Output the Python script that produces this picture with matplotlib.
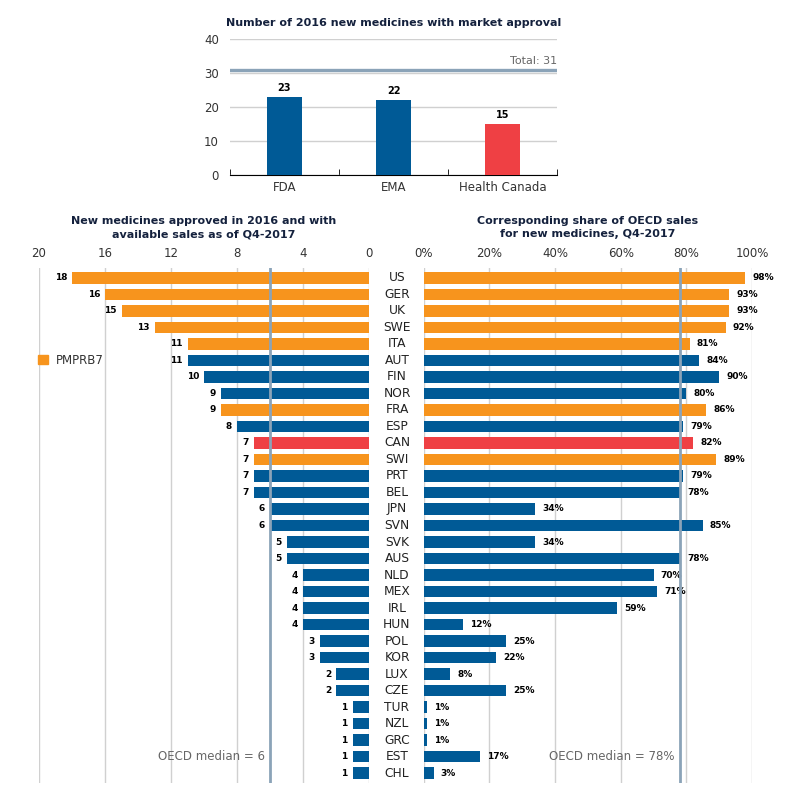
import matplotlib
matplotlib.use("Agg")
import matplotlib.pyplot as plt
from matplotlib.patches import Patch
from matplotlib.transforms import blended_transform_factory

# ---- data ----
agencies = ["FDA", "EMA", "Health Canada"]
approvals = [23, 22, 15]
total_new = 31

countries = ["US", "GER", "UK", "SWE", "ITA", "AUT", "FIN", "NOR", "FRA", "ESP",
             "CAN", "SWI", "PRT", "BEL", "JPN", "SVN", "SVK", "AUS", "NLD", "MEX",
             "IRL", "HUN", "POL", "KOR", "LUX", "CZE", "TUR", "NZL", "GRC", "EST", "CHL"]
counts = [18, 16, 15, 13, 11, 11, 10, 9, 9, 8, 7, 7, 7, 7, 6, 6, 5, 5, 4, 4,
          4, 4, 3, 3, 2, 2, 1, 1, 1, 1, 1]
shares = [98, 93, 93, 92, 81, 84, 90, 80, 86, 79, 82, 89, 79, 78, 34, 85, 34, 78, 70, 71,
          59, 12, 25, 22, 8, 25, 1, 1, 1, 17, 3]
pmprb7 = ["US", "GER", "UK", "SWE", "ITA", "FRA", "SWI"]
median_count = 6
median_share = 78

ORANGE = "#F7941D"
BLUE = "#005A96"
RED = "#EF4044"
MEDIAN = "#8BA3B8"
GRID = "#D0D0D0"
TITLE = "#14213D"
TXT = "#333333"

plt.rcParams['font.family'] = ['DejaVu Sans']

def col(c):
    if c == "CAN":
        return RED
    if c in pmprb7:
        return ORANGE
    return BLUE

colors = [col(c) for c in countries]
agency_colors = [BLUE, BLUE, RED]

fig = plt.figure(figsize=(8.1, 7.9), dpi=100)

# ---- top chart ----
W, H = 810, 790
def rect(x0, y0, x1, y1):
    return [x0 / W, 1 - y1 / H, (x1 - x0) / W, (y1 - y0) / H]

axt = fig.add_axes(rect(230, 39, 557, 175))
xs = list(range(len(agencies)))
axt.bar(xs, approvals, width=0.32, color=agency_colors, zorder=3)
for x, v in zip(xs, approvals):
    axt.text(x, v + 1.2, str(v), ha="center", va="bottom", fontsize=7,
             fontweight="bold", color="black")
axt.axhline(total_new, color=MEDIAN, lw=2.4, zorder=4)
axt.text(2.5, total_new + 1.2, f"Total: {total_new}", ha="right", va="bottom",
         fontsize=8, color="#666666")
axt.set_xlim(-0.5, 2.5)
axt.set_ylim(0, 40)
axt.set_yticks([0, 10, 20, 30, 40])
axt.yaxis.grid(True, color=GRID, lw=1)
axt.set_axisbelow(True)
axt.set_xticks(xs)
axt.set_xticklabels(agencies, fontsize=8.5, color=TXT)
axt.tick_params(axis="x", length=0, pad=4)
axt.tick_params(axis="y", length=0, labelsize=8.5, labelcolor=TXT, pad=8)
axt.set_xticks([-0.5, 0.5, 1.5, 2.5], minor=True)
axt.tick_params(axis="x", which="minor", direction="in", length=4, color="black")
for s in ["top", "right", "left"]:
    axt.spines[s].set_visible(False)
axt.spines["bottom"].set_color("black")
axt.set_title("Number of 2016 new medicines with market approval", fontsize=8,
              fontweight="bold", color=TITLE, pad=9)

# ---- bottom panels ----
axl = fig.add_axes(rect(39, 268, 369, 783))
axr = fig.add_axes(rect(423.7, 268, 752, 783))
ys = list(range(len(countries)))

axl.barh(ys, counts, height=0.68, color=colors, zorder=3)
axl.set_xlim(20, 0)
axl.set_ylim(len(countries) - 0.4, -0.6)
axl.set_xticks([20, 16, 12, 8, 4, 0])
axl.axvline(median_count, color=MEDIAN, lw=2, zorder=4)
for y, v in zip(ys, counts):
    axl.text(v + 0.3, y, str(v), ha="right", va="center", fontsize=6.5,
             fontweight="bold", color="black")
axl.text(median_count + 0.3, 29, f"OECD median = {median_count}", ha="right",
         va="center", fontsize=8.5, color="#666666")
axl.set_title("New medicines approved in 2016 and with\navailable sales as of Q4-2017",
              fontsize=8, fontweight="bold", color=TITLE, pad=22, linespacing=1.45)

axr.barh(ys, shares, height=0.68, color=colors, zorder=3)
axr.set_xlim(0, 100)
axr.set_ylim(len(countries) - 0.4, -0.6)
axr.set_xticks([0, 20, 40, 60, 80, 100])
axr.set_xticklabels([f"{t}%" for t in [0, 20, 40, 60, 80, 100]])
axr.axvline(median_share, color=MEDIAN, lw=2, zorder=4)
for y, v in zip(ys, shares):
    axr.text(v + 2.2, y, f"{v}%", ha="left", va="center", fontsize=6.5,
             fontweight="bold", color="black")
axr.text(median_share - 1.5, 29, f"OECD median = {median_share}%", ha="right",
         va="center", fontsize=8.5, color="#666666")
axr.set_title("Corresponding share of OECD sales\nfor new medicines, Q4-2017",
              fontsize=8, fontweight="bold", color=TITLE, pad=22, linespacing=1.45)

for ax in (axl, axr):
    ax.xaxis.tick_top()
    ax.tick_params(axis="x", length=0, labelsize=8.5, labelcolor=TXT, pad=6)
    ax.set_yticks([])
    ax.xaxis.grid(True, color=GRID, lw=1)
    ax.set_axisbelow(True)
    for s in ax.spines.values():
        s.set_visible(False)

# country labels in the middle
tr = blended_transform_factory(fig.transFigure, axl.transData)
for y, c in zip(ys, countries):
    axl.text(397 / W, y, c, transform=tr, ha="center", va="center", fontsize=8.8,
             color="#222222", clip_on=False)

# legend
axl.legend(handles=[Patch(color=ORANGE, label="PMPRB7")], loc="center left",
           bbox_to_anchor=(-0.035, 1 - 5.55 / 31.0), frameon=False, fontsize=8.5,
           handlelength=0.8, handleheight=0.8, handletextpad=0.7,
           labelcolor=TXT)

fig.savefig("out.png", dpi=100, facecolor="white")
